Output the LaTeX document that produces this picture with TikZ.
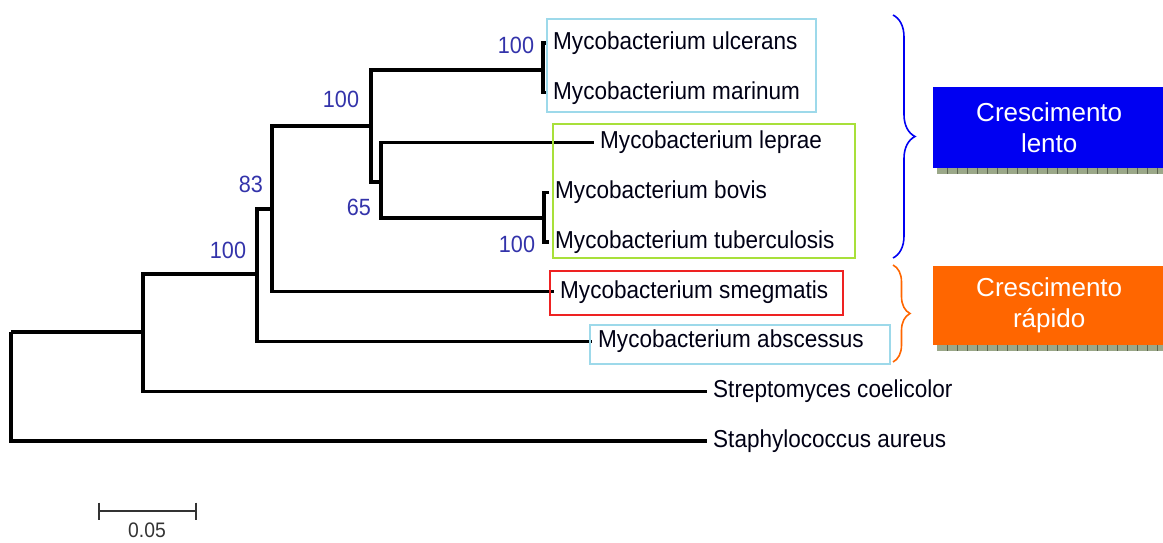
\documentclass[tikz,border=0pt]{standalone}
\usepackage{fontspec}
\setmainfont{Liberation Sans}[FakeStretch=0.92]
\newfontfamily\tagfont{Liberation Sans}
\usetikzlibrary{decorations.pathreplacing}
\definecolor{bootblue}{HTML}{3333AA}
\definecolor{boxcyan}{HTML}{9DD9EA}
\definecolor{boxgreen}{HTML}{A8E03A}
\definecolor{boxred}{HTML}{EE2222}
\definecolor{lentoblue}{HTML}{0000F2}
\definecolor{rapidoorange}{HTML}{FF6600}
\definecolor{shadowgray}{HTML}{9BA889}
\tikzset{
  branch/.style={line width=3.2pt},
  leaf/.style={anchor=west,inner xsep=6pt,inner ysep=0pt,text=black!92!blue,font=\fontsize{24.5}{28}\selectfont},
  boot/.style={text=bootblue,inner sep=0pt,font=\fontsize{23.5}{26}\selectfont},
  clade/.style={line width=1.5pt},
  growth/.style={line width=1.6pt,decorate},
  tagbox/.style={anchor=north west,minimum width=232pt,inner sep=0pt,text=white,align=center,
    font=\tagfont\fontsize{26}{31}\selectfont}
}
\begin{document}
\begin{tikzpicture}[x=1pt,y=-1pt]
        \useasboundingbox (0,0) rectangle (1163,543);
        % leaves
        \node[leaf] (ulc) at (547,43) {Mycobacterium ulcerans};
        \node[leaf] (mar) at (547,92.75) {Mycobacterium marinum};
        \node[leaf] (lep) at (594,142.5) {Mycobacterium leprae};
        \node[leaf] (bov) at (549,192.25) {Mycobacterium bovis};
        \node[leaf] (tub) at (549,242) {Mycobacterium tuberculosis};
        \node[leaf] (sme) at (554,291.75) {Mycobacterium smegmatis};
        \node[leaf] (abs) at (592,341.5) {Mycobacterium abscessus};
        \node[leaf] (str) at (707,391.25) {Streptomyces coelicolor};
        \node[leaf] (sta) at (707,441) {Staphylococcus aureus};
        % internal nodes
        \coordinate (root) at (11,332);
        \coordinate (nA) at (143,332);
        \coordinate (nB) at (257,274);
        \coordinate (nC) at (272,209);
        \coordinate (nD) at (371,126);
        \coordinate (nE) at (543,70);
        \coordinate (nF) at (381,182);
        \coordinate (nG) at (544,218);
        \draw[branch] (root) |- (nA) (root) |- (sta.west);
        \draw[branch] (nA) |- (nB) (nA) |- (str.west);
        \draw[branch] (nB) |- (nC) (nB) |- (abs.west);
        \draw[branch] (nC) |- (nD) (nC) |- (sme.west);
        \draw[branch] (nD) |- (nE) (nD) |- (nF);
        \draw[branch] (nE) |- (ulc.west) (nE) |- (mar.west);
        \draw[branch] (nF) |- (lep.west) (nF) |- (nG);
        \draw[branch] (nG) |- (bov.west) (nG) |- (tub.west);
        % bootstrap values
        \node[boot] (bE) at (516,45) {100};
        \node[boot] (bD) at (341,99) {100};
        \node[boot] (bC) at (251,184) {83};
        \node[boot] (bF) at (359,207) {65};
        \node[boot] (bG) at (517,244) {100};
        \node[boot] (bB) at (228,250) {100};
        % clade boxes
        \draw[clade,boxcyan] (547,19) rectangle (816,112);
        \draw[clade,boxgreen] (553,124) rectangle (855,258);
        \draw[clade,boxred] (550,271) rectangle (843,315);
        \draw[clade,boxcyan] (590,325) rectangle (890,364);
        % braces and growth boxes
        \draw[growth,lentoblue,decoration={brace,amplitude=22pt}] (893,15) -- (893,258);
        \draw[growth,rapidoorange,decoration={brace,amplitude=17pt}] (893,265) -- (893,362);
        \fill[shadowgray] (937,168) rectangle (1163,174);
        \fill[shadowgray] (937,345) rectangle (1163,351);
        \foreach \sx in {947,957,...,1160} {
          \draw[shadowgray!60!black,line width=0.8pt] (\sx,168) -- (\sx,174);
          \draw[shadowgray!60!black,line width=0.8pt] (\sx,345) -- (\sx,351);
        }
        \node[tagbox,fill=lentoblue,minimum height=81pt] (lento) at (933,87) {Crescimento\\lento};
        \node[tagbox,fill=rapidoorange,minimum height=79pt] (rapido) at (933,266) {Crescimento\\rápido};
        % scale bar
        \coordinate (sbL) at (99,511);
        \coordinate (sbR) at (196,511);
        \draw[line width=1.8pt,black!80] (sbL) -- (sbR)
          (sbL) ++(0,-8.5) -- ++(0,17) (sbR) ++(0,-8.5) -- ++(0,17);
        \node[text=black!80,font=\fontsize{21}{24}\selectfont] (sbT) at (147,530) {0.05};
\end{tikzpicture}
\end{document}
